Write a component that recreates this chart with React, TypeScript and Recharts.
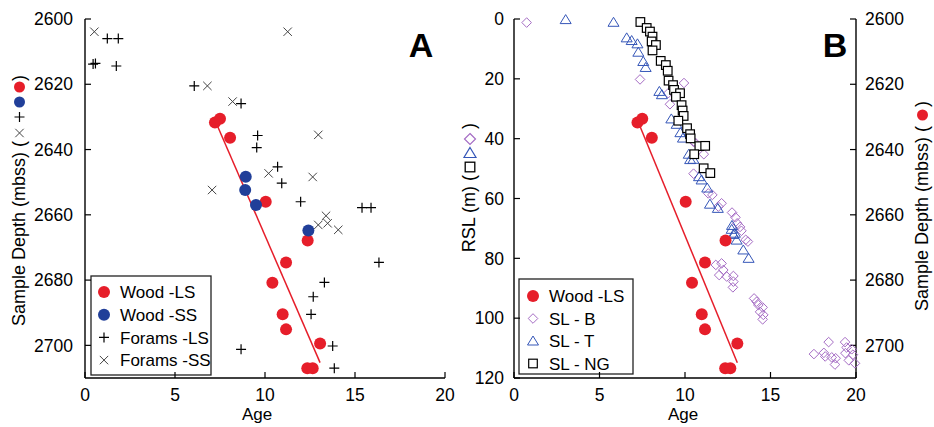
import React from 'react';
import { ScatterChart, Scatter, XAxis, YAxis } from 'recharts';

const FONT = "'Liberation Sans', Arial, Helvetica, sans-serif";
const RED = '#e61e2a';
const BLUE = '#213f99';
const PURPLE = '#a56cc4';
const TBLUE = '#3556b8';

const ageTicks = [0, 5, 10, 15, 20];
const depthTicks = [2600, 2620, 2640, 2660, 2680, 2700];
const rslTicks = [0, 20, 40, 60, 80, 100, 120];

const woodLS = [
  { age: 7.22, depth: 2631.7 }, { age: 7.5, depth: 2630.6 }, { age: 8.06, depth: 2636.4 },
  { age: 10.04, depth: 2656 }, { age: 12.37, depth: 2667.9 }, { age: 11.17, depth: 2674.6 },
  { age: 10.41, depth: 2680.8 }, { age: 10.98, depth: 2690.5 }, { age: 11.17, depth: 2695.1 },
  { age: 13.06, depth: 2699.4 }, { age: 12.35, depth: 2707 }, { age: 12.65, depth: 2707 },
];
const woodSS = [
  { age: 8.93, depth: 2648.3 }, { age: 8.9, depth: 2652.4 }, { age: 9.5, depth: 2657 }, { age: 12.41, depth: 2664.8 },
];
const foramsLS = [
  { age: 1.24, depth: 2606 }, { age: 1.85, depth: 2606 }, { age: 0.45, depth: 2613.8 },
  { age: 0.58, depth: 2613.6 }, { age: 1.74, depth: 2614.4 }, { age: 6.07, depth: 2620.5 },
  { age: 8.67, depth: 2625.9 }, { age: 9.59, depth: 2635.7 }, { age: 9.54, depth: 2639.4 },
  { age: 10.7, depth: 2645.3 }, { age: 10.93, depth: 2650.3 }, { age: 11.98, depth: 2656 },
  { age: 15.39, depth: 2657.8 }, { age: 15.89, depth: 2657.8 }, { age: 16.33, depth: 2674.6 },
  { age: 13.3, depth: 2680.7 }, { age: 12.68, depth: 2685.1 }, { age: 12.56, depth: 2690.5 },
  { age: 13.76, depth: 2700.2 }, { age: 8.67, depth: 2701.2 }, { age: 13.85, depth: 2707 },
];
const foramsSS = [
  { age: 0.52, depth: 2603.9 }, { age: 11.26, depth: 2603.9 }, { age: 6.8, depth: 2620.5 },
  { age: 8.2, depth: 2625.3 }, { age: 12.96, depth: 2635.5 }, { age: 10.2, depth: 2647.3 },
  { age: 12.65, depth: 2648.4 }, { age: 7.06, depth: 2652.4 }, { age: 13.39, depth: 2660.3 },
  { age: 12.96, depth: 2663.1 }, { age: 13.48, depth: 2662.6 }, { age: 14.07, depth: 2664.6 },
];
const fitLine = [{ age: 7.3, depth: 2632 }, { age: 13.06, depth: 2705.3 }];

const slNG = [
  { age: 7.39, rsl: 1 }, { age: 7.76, rsl: 3 }, { age: 7.95, rsl: 4.2 }, { age: 8.1, rsl: 5.9 },
  { age: 8.05, rsl: 7.5 }, { age: 8.3, rsl: 8.7 }, { age: 8.1, rsl: 10.5 }, { age: 8.58, rsl: 14 },
  { age: 8.88, rsl: 15.4 }, { age: 8.99, rsl: 17.3 }, { age: 9.04, rsl: 20.6 }, { age: 9.3, rsl: 22.1 },
  { age: 9.36, rsl: 23.7 }, { age: 9.71, rsl: 24.8 }, { age: 9.47, rsl: 26 }, { age: 9.8, rsl: 28.8 },
  { age: 9.86, rsl: 30.6 }, { age: 9.92, rsl: 32.4 }, { age: 9.61, rsl: 34 }, { age: 10.12, rsl: 36.5 },
  { age: 10.3, rsl: 38.5 }, { age: 10.33, rsl: 39.9 }, { age: 10.84, rsl: 42.5 }, { age: 11.18, rsl: 42.4 },
  { age: 10.54, rsl: 45.2 }, { age: 11.09, rsl: 49.9 }, { age: 11.48, rsl: 51.5 },
];
const slT = [
  { age: 3.02, rsl: 0.2 }, { age: 5.82, rsl: 1.1 }, { age: 6.59, rsl: 6.3 }, { age: 6.88, rsl: 7.2 },
  { age: 7.22, rsl: 8.3 }, { age: 7.27, rsl: 11.1 }, { age: 7.56, rsl: 14.2 }, { age: 7.7, rsl: 16.2 },
  { age: 8.5, rsl: 24.2 }, { age: 8.65, rsl: 25.3 }, { age: 9.2, rsl: 33.4 }, { age: 9.51, rsl: 35.2 },
  { age: 9.73, rsl: 38 }, { age: 9.88, rsl: 39.8 }, { age: 10.22, rsl: 45.2 }, { age: 10.3, rsl: 47 },
  { age: 10.49, rsl: 46.9 }, { age: 10.82, rsl: 52.7 }, { age: 10.97, rsl: 53.8 }, { age: 11.3, rsl: 56.5 },
  { age: 11.46, rsl: 61.9 }, { age: 11.92, rsl: 63.3 }, { age: 12.75, rsl: 69 }, { age: 12.73, rsl: 70.3 },
  { age: 12.83, rsl: 72 }, { age: 12.92, rsl: 71.6 }, { age: 13.02, rsl: 73.9 }, { age: 13.41, rsl: 77.2 },
  { age: 13.72, rsl: 80 },
];
const slB = [
  { age: 0.74, rsl: 1.2 }, { age: 7.37, rsl: 20.2 }, { age: 9.94, rsl: 21.4 }, { age: 9.02, rsl: 24.8 },
  { age: 9.12, rsl: 28.5 }, { age: 10.64, rsl: 41.6 }, { age: 10.49, rsl: 41 }, { age: 11.1, rsl: 45.2 },
  { age: 10.5, rsl: 51.7 }, { age: 11.36, rsl: 58.3 }, { age: 11.6, rsl: 58.8 }, { age: 12.14, rsl: 61.6 },
  { age: 11.95, rsl: 62.7 }, { age: 12.75, rsl: 64.7 }, { age: 12.95, rsl: 66.3 }, { age: 13.05, rsl: 68.3 },
  { age: 13.22, rsl: 69.5 }, { age: 13.3, rsl: 70.8 }, { age: 13.55, rsl: 73.8 }, { age: 13.68, rsl: 74.4 },
  { age: 11.8, rsl: 82.2 }, { age: 12.14, rsl: 81.7 }, { age: 12.24, rsl: 83.9 }, { age: 12.0, rsl: 85.6 },
  { age: 12.44, rsl: 86.1 }, { age: 12.83, rsl: 85.9 }, { age: 12.83, rsl: 87.8 }, { age: 12.8, rsl: 89.7 },
  { age: 14.04, rsl: 93.4 }, { age: 14.19, rsl: 94.5 }, { age: 14.29, rsl: 95.6 }, { age: 14.54, rsl: 96.4 },
  { age: 14.39, rsl: 97.9 }, { age: 14.58, rsl: 98.9 }, { age: 14.54, rsl: 100.4 }, { age: 17.54, rsl: 112 },
  { age: 18.12, rsl: 111.6 }, { age: 18.4, rsl: 108 }, { age: 18.2, rsl: 112.8 }, { age: 18.58, rsl: 113.1 },
  { age: 18.77, rsl: 115.5 }, { age: 18.81, rsl: 113.4 }, { age: 19.36, rsl: 108 }, { age: 19.45, rsl: 109.8 },
  { age: 19.38, rsl: 111.7 }, { age: 19.58, rsl: 114.1 }, { age: 19.75, rsl: 110.4 }, { age: 19.82, rsl: 112.2 },
  { age: 19.94, rsl: 115.1 },
];

const legendA = ['Wood -LS', 'Wood -SS', 'Forams -LS', 'Forams -SS'];
const legendB = ['Wood -LS', 'SL - B', 'SL - T', 'SL - NG'];

const dot = (color: string, r = 6) => (p: any) => <circle cx={p.cx} cy={p.cy} r={r} fill={color} />;
const plus = (p: any) => (
  <path d={`M${p.cx - 5},${p.cy}h10M${p.cx},${p.cy - 5}v10`} stroke="#000" strokeWidth={1.2} fill="none" />
);
const cross = (p: any) => (
  <path d={`M${p.cx - 4.2},${p.cy - 4.2}l8.4,8.4M${p.cx - 4.2},${p.cy + 4.2}l8.4,-8.4`} stroke="#444" strokeWidth={1} fill="none" />
);
const diamond = (p: any) => (
  <path d={`M${p.cx},${p.cy - 4.8}L${p.cx + 4.8},${p.cy}L${p.cx},${p.cy + 4.8}L${p.cx - 4.8},${p.cy}Z`} stroke={PURPLE} strokeWidth={1} fill="none" />
);
const bigDiamond = (p: any) => (
  <path d={`M${p.cx},${p.cy - 5.5}L${p.cx + 5.5},${p.cy}L${p.cx},${p.cy + 5.5}L${p.cx - 5.5},${p.cy}Z`} stroke={PURPLE} strokeWidth={1.2} fill="none" />
);
const triangle = (p: any) => (
  <path d={`M${p.cx},${p.cy - 5}L${p.cx + 5.5},${p.cy + 4}L${p.cx - 5.5},${p.cy + 4}Z`} stroke={TBLUE} strokeWidth={1} fill="none" />
);
const bigTriangle = (p: any) => (
  <path d={`M${p.cx},${p.cy - 5.5}L${p.cx + 6},${p.cy + 4.5}L${p.cx - 6},${p.cy + 4.5}Z`} stroke={TBLUE} strokeWidth={1.2} fill="none" />
);
const square = (p: any) => (
  <rect x={p.cx - 4.3} y={p.cy - 4.3} width={8.6} height={8.6} stroke="#000" strokeWidth={1.2} fill="#fff" />
);
const bigSquare = (p: any) => (
  <rect x={p.cx - 4.8} y={p.cy - 4.8} width={9.6} height={9.6} stroke="#000" strokeWidth={1.3} fill="#fff" />
);
const nothing = () => <g />;

const axisLine = { stroke: '#000', strokeWidth: 1.4 };
const tickLine = { stroke: '#000', strokeWidth: 1.2 };
const tickStyle = { fontSize: 17.5, fill: '#000', fontFamily: FONT };

function LegendBox({ x, y, w, h, labels, shapes, symX, textX, rowY, step }: any) {
  return (
    <g>
      <rect x={x} y={y} width={w} height={h} fill="#fff" stroke="#222" strokeWidth={1.3} />
      {labels.map((l: string, i: number) => {
        const cy = rowY + i * step;
        return (
          <g key={l}>
            {shapes[i]({ cx: symX, cy })}
            <text x={textX} y={cy} dy="0.36em" fontSize={17} fontFamily={FONT} fill="#000">{l}</text>
          </g>
        );
      })}
    </g>
  );
}

function SymbolTitle({ x, yEnd, text, symbols, symX, closeY }: any) {
  return (
    <g>
      <text transform={`translate(${x},${yEnd}) rotate(-90)`} textAnchor="end" fontSize={18} fontFamily={FONT} fill="#000">{text}</text>
      {symbols.map((s: any, i: number) => <g key={i}>{s.shape({ cx: symX, cy: s.y })}</g>)}
      <text transform={`translate(${x},${closeY}) rotate(-90)`} textAnchor="middle" fontSize={18} fontFamily={FONT} fill="#000">)</text>
    </g>
  );
}

function ChartA() {
  return (
    <ScatterChart width={460} height={427} margin={{ top: 19, right: 15, bottom: 0, left: 0 }}>
      <XAxis xAxisId="b" type="number" dataKey="age" domain={[0, 20]} ticks={ageTicks} height={49}
        tickSize={-6} tickMargin={17} tick={tickStyle} axisLine={axisLine} tickLine={tickLine} interval={0} />
      <XAxis xAxisId="t" orientation="top" type="number" dataKey="age" domain={[0, 20]} ticks={ageTicks} height={0}
        tickSize={-6} tick={false} axisLine={axisLine} tickLine={tickLine} interval={0} />
      <YAxis yAxisId="l" type="number" dataKey="depth" domain={[2600, 2710]} ticks={depthTicks} reversed width={85}
        tickSize={-6} tickMargin={18} tick={tickStyle} axisLine={axisLine} tickLine={tickLine} interval={0} />
      <YAxis yAxisId="r" orientation="right" type="number" dataKey="depth" domain={[2600, 2710]} ticks={depthTicks} reversed width={0}
        tickSize={-6} tick={false} axisLine={axisLine} tickLine={tickLine} interval={0} />
      <Scatter xAxisId="b" yAxisId="l" data={foramsSS} shape={cross} isAnimationActive={false} />
      <Scatter xAxisId="b" yAxisId="l" data={foramsLS} shape={plus} isAnimationActive={false} />
      <Scatter xAxisId="b" yAxisId="l" data={fitLine} line={{ stroke: RED, strokeWidth: 1.5 }} shape={nothing} isAnimationActive={false} />
      <Scatter xAxisId="b" yAxisId="l" data={woodLS} shape={dot(RED)} isAnimationActive={false} />
      <Scatter xAxisId="b" yAxisId="l" data={woodSS} shape={dot(BLUE)} isAnimationActive={false} />
      <LegendBox x={91} y={276} w={120} h={99} labels={legendA}
        shapes={[dot(RED), dot(BLUE), plus, cross]} symX={104} textX={120} rowY={292} step={22.7} />
      <text x={421} y={57} textAnchor="middle" fontSize={34} fontWeight="bold" fontFamily={FONT} fill="#000">A</text>
      <text x={257} y={420} textAnchor="middle" fontSize={17} fontFamily={FONT} fill="#000">Age</text>
      <SymbolTitle x={25} yEnd={141} text="Sample Depth (mbss) (" symX={19.5} closeY={78}
        symbols={[{ shape: cross, y: 133 }, { shape: plus, y: 117 }, { shape: dot(BLUE, 5.5), y: 102 }, { shape: dot(RED, 5.5), y: 87 }]} />
    </ScatterChart>
  );
}

function ChartB() {
  return (
    <ScatterChart width={474} height={427} margin={{ top: 19, right: 0, bottom: 0, left: 0 }}>
      <XAxis xAxisId="b" type="number" dataKey="age" domain={[0, 20]} ticks={ageTicks} height={49}
        tickSize={-6} tickMargin={17} tick={tickStyle} axisLine={axisLine} tickLine={tickLine} interval={0} />
      <XAxis xAxisId="t" orientation="top" type="number" dataKey="age" domain={[0, 20]} ticks={ageTicks} height={0}
        tickSize={-6} tick={false} axisLine={axisLine} tickLine={tickLine} interval={0} />
      <YAxis yAxisId="rsl" type="number" dataKey="rsl" domain={[0, 120]} ticks={rslTicks} reversed width={54}
        tickSize={-6} tickMargin={16} tick={tickStyle} axisLine={axisLine} tickLine={tickLine} interval={0} />
      <YAxis yAxisId="depth" orientation="right" type="number" dataKey="depth" domain={[2600, 2710]} ticks={depthTicks} reversed width={78}
        tickSize={-6} tickMargin={15} tick={tickStyle} axisLine={axisLine} tickLine={tickLine} interval={0} />
      <Scatter xAxisId="b" yAxisId="rsl" data={slB} shape={diamond} isAnimationActive={false} />
      <Scatter xAxisId="b" yAxisId="rsl" data={slT} shape={triangle} isAnimationActive={false} />
      <Scatter xAxisId="b" yAxisId="rsl" data={slNG} shape={square} isAnimationActive={false} />
      <Scatter xAxisId="b" yAxisId="depth" data={fitLine} line={{ stroke: RED, strokeWidth: 1.5 }} shape={nothing} isAnimationActive={false} />
      <Scatter xAxisId="b" yAxisId="depth" data={woodLS} shape={dot(RED)} isAnimationActive={false} />
      <LegendBox x={59} y={279} w={114} h={95} labels={legendB}
        shapes={[dot(RED), diamond, triangle, square]} symX={73} textX={89} rowY={296} step={22.5} />
      <text x={375} y={57} textAnchor="middle" fontSize={34} fontWeight="bold" fontFamily={FONT} fill="#000">B</text>
      <text x={223} y={420} textAnchor="middle" fontSize={17} fontFamily={FONT} fill="#000">Age</text>
      <SymbolTitle x={15} yEnd={175} text="RSL (m) (" symX={10} closeY={126}
        symbols={[{ shape: bigSquare, y: 167 }, { shape: bigTriangle, y: 153 }, { shape: bigDiamond, y: 139 }]} />
      <SymbolTitle x={468} yEnd={126} text="Sample Depth (mbss) (" symX={462.5} closeY={104}
        symbols={[{ shape: dot(RED, 5.5), y: 115 }]} />
    </ScatterChart>
  );
}

export default function App() {
  return (
    <div style={{ position: 'absolute', left: 0, top: 0, width: 934, height: 427, background: '#fff' }}>
      <div style={{ position: 'absolute', left: 0, top: 0 }}><ChartA /></div>
      <div style={{ position: 'absolute', left: 460, top: 0 }}><ChartB /></div>
    </div>
  );
}
